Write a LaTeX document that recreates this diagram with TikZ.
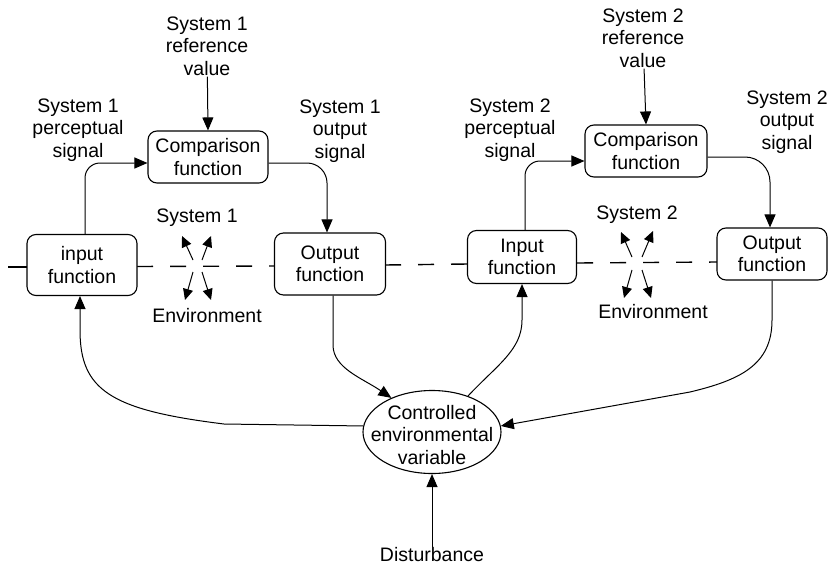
\documentclass[tikz,border=0pt]{standalone}
\usepackage{fontspec}
\setmainfont{Liberation Sans}
\usetikzlibrary{arrows.meta,shapes.geometric}
\begin{document}
\begin{tikzpicture}[x=1pt,y=-1pt,
  font=\fontsize{19.5}{22.5}\selectfont,
  box/.style={draw,rounded corners=9pt,fill=white,line width=1.1pt,align=center,inner sep=0pt},
  lbl/.style={align=center,inner sep=1pt},
  arr/.style={line width=1pt,-{Triangle[length=13pt,width=11pt]}},
  sarr/.style={line width=1pt,-{Triangle[length=11pt,width=10pt]}},
  dsh/.style={line width=1.4pt,dash pattern=on 16pt off 17pt},
]
\useasboundingbox (0,0) rectangle (829,567);

% system/environment boundary
\coordinate (b0) at (8,267);   \coordinate (b1) at (27,267);
\coordinate (b2) at (137,266.5); \coordinate (b3) at (274,266);
\coordinate (b4) at (385,265); \coordinate (b5) at (468,264);
\coordinate (b6) at (577,263); \coordinate (b7) at (717,262);
\draw[line width=1.4pt] (b0) -- (b1);
\draw[dsh] (b2) -- (b3);
\draw[dsh] (b4) -- (b5);
\draw[dsh] (b6) -- (b7);

% boxes
\node[box,minimum width=110pt,minimum height=61pt] (in1) at (82,265) {input\\function};
\node[box,minimum width=111pt,minimum height=62pt] (out1) at (330,264) {Output\\function};
\node[box,minimum width=120pt,minimum height=52pt] (cmp1) at (208,157) {Comparison\\function};
\node[box,minimum width=109pt,minimum height=53pt] (in2) at (522,257) {Input\\function};
\node[box,minimum width=110pt,minimum height=52pt] (out2) at (772,254) {Output\\function};
\node[box,minimum width=122pt,minimum height=52pt] (cmp2) at (646,151) {Comparison\\function};
\node[draw,ellipse,line width=1.1pt,minimum width=138pt,minimum height=83pt,inner sep=0pt] (ell) at (432,432) {};
\node[lbl] (ellt) at (432,435) {Controlled\\environmental\\variable};

% labels
\node[lbl] (ref1) at (207,46) {System 1\\reference\\value};
\node[lbl] (ref2) at (643,38) {System 2\\reference\\value};
\node[lbl] (per1) at (78,130) {System 1\\perceptual\\signal};
\node[lbl] (per2) at (510,130) {System 2\\perceptual\\signal};
\node[lbl] (os1) at (340,131) {System 1\\output\\signal};
\node[lbl] (os2) at (787,122) {System 2\\output\\signal};
\node[lbl] (sys1) at (197,218) {System 1};
\node[lbl] (sys2) at (637,215) {System 2};
\node[lbl] (env1) at (207,316) {Environment};
\node[lbl] (env2) at (653,312) {Environment};
\node[lbl] (dist) at (432,555) {Disturbance};

% top connectors
\draw[arr] (ref1) -- (cmp1.north);
\draw[arr] (ref2) -- (cmp2.north);
\draw[arr,rounded corners=15pt] ([xshift=3pt]in1.north) |- ([yshift=-6pt]cmp1.west);
\draw[arr,rounded corners=20pt] ([yshift=-6pt]cmp1.east) -| ([xshift=-3pt]out1.north);
\draw[arr,rounded corners=15pt] ([xshift=3pt]in2.north) |- ([yshift=-10pt]cmp2.west);
\draw[arr,rounded corners=25pt] ([yshift=-6pt]cmp2.east) -| ([xshift=-2pt]out2.north);

% bottom connectors
\draw[arr] (ell.175) -- (224,424) .. controls (110,410) and (80,390) .. (80,330) -- ([xshift=-2pt]in1.south);
\draw[arr] ([xshift=3pt]out1.south) -- (333,345) .. controls (333,368) and (362,378) .. (ell.140);
\draw[arr] (ell.45) .. controls (497,365) and (522,350) .. (522,320) -- (in2.south);
\draw[arr] (out2.south) -- (772,320) .. controls (772,365) and (740,380) .. (690,392) -- (ell.5);
\draw[arr] (dist) -- (ell.south);

% system / environment crossing arrows
\coordinate (x1a) at (193,260); \coordinate (x1A) at (182,236);
\coordinate (x1b) at (202,260); \coordinate (x1B) at (211,236);
\coordinate (x1c) at (193,272); \coordinate (x1C) at (185,300);
\coordinate (x1d) at (202,272); \coordinate (x1D) at (211,300);
\draw[sarr] (x1a) -- (x1A);
\draw[sarr] (x1b) -- (x1B);
\draw[sarr] (x1c) -- (x1C);
\draw[sarr] (x1d) -- (x1D);
\coordinate (x2a) at (632,257); \coordinate (x2A) at (621,232);
\coordinate (x2b) at (642,257); \coordinate (x2B) at (653,231);
\coordinate (x2c) at (632,270); \coordinate (x2C) at (624,298);
\coordinate (x2d) at (642,270); \coordinate (x2D) at (651,298);
\draw[sarr] (x2a) -- (x2A);
\draw[sarr] (x2b) -- (x2B);
\draw[sarr] (x2c) -- (x2C);
\draw[sarr] (x2d) -- (x2D);
\end{tikzpicture}
\end{document}
